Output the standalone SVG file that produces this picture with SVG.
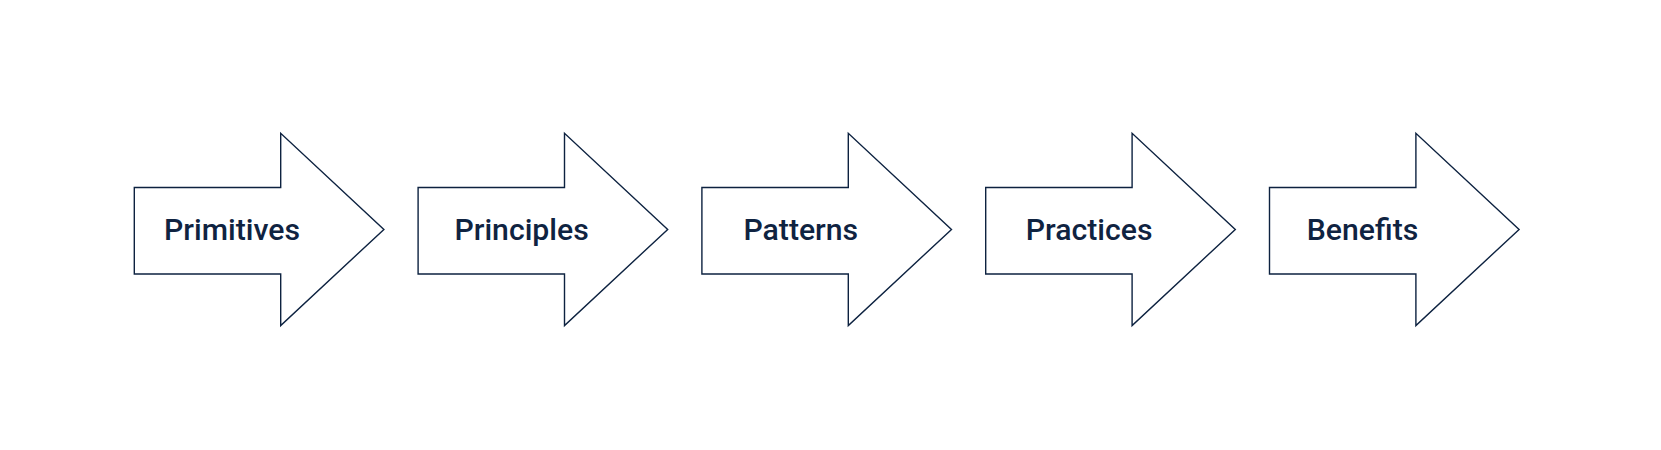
<svg xmlns="http://www.w3.org/2000/svg" width="1661" height="450" viewBox="0 0 1661 450">
<defs>
<style>
.arrow{fill:#ffffff;stroke:#0d2240;stroke-width:1.4;stroke-linejoin:miter}
.label{font-family:Roboto,"Liberation Sans",sans-serif;font-weight:500;font-size:30.2px;fill:#0f2341;text-anchor:middle}
</style>
<path id="shape" class="arrow" d="M0,187.5 H146.4 V133.3 L249.6,229.4 L146.4,325.6 V274 H0 Z"/>
</defs>
<rect width="1661" height="450" fill="#ffffff"/>
<g id="connectors"></g>
<g id="node-primitives">
<use href="#shape" x="134.3"/>
<text class="label" x="232" y="239.5">Primitives</text>
</g>
<g id="node-principles">
<use href="#shape" x="418.1"/>
<text class="label" x="521.6" y="239.5">Principles</text>
</g>
<g id="node-patterns">
<use href="#shape" x="701.9"/>
<text class="label" x="800.8" y="239.5">Patterns</text>
</g>
<g id="node-practices">
<use href="#shape" x="985.7"/>
<text class="label" x="1089.2" y="239.5">Practices</text>
</g>
<g id="node-benefits">
<use href="#shape" x="1269.5"/>
<text class="label" x="1362.5" y="239.5">Benefits</text>
</g>
</svg>
